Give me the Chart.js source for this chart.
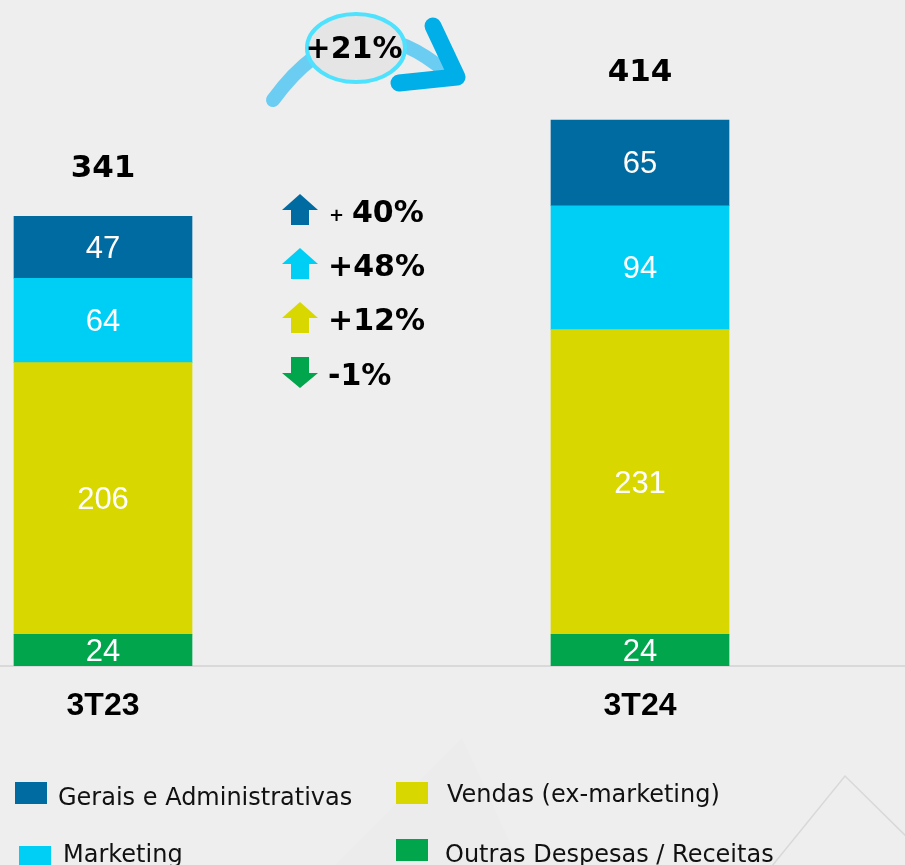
<!DOCTYPE html>
<html>
<head>
<meta charset="utf-8">
<script src="https://cdn.jsdelivr.net/npm/chart.js@4.4.1/dist/chart.umd.min.js"></script>
<style>
  html, body { margin: 0; padding: 0; background: #eeeeee; }
  #wrap { width: 905px; height: 865px; position: relative; }
</style>
</head>
<body>
<div id="wrap"><canvas id="c" width="905" height="865"></canvas></div>
<script>
// ---- data ----
const categories = ['3T23', '3T24'];
const outras = [24, 24];
const vendas = [206, 231];
const marketing = [64, 94];
const gerais = [47, 65];
const totals = [341, 414];
const seriesNames = ['Outras Despesas / Receitas', 'Vendas (ex-marketing)', 'Marketing', 'Gerais e Administrativas'];
const seriesColors = ['#00a54c', '#d8d800', '#00cff5', '#006ba0'];
const changeLabels = ['+ 40%', '+48%', '+12%', '-1%'];   // Gerais, Marketing, Vendas, Outras
const changeDirs = ['up', 'up', 'up', 'down'];
const totalChange = '+21%';

const seriesValues = [outras, vendas, marketing, gerais];
const toPoints = arr => arr.map((v, i) => ({ x: i, y: v }));

const datasets = seriesNames.map((name, k) => ({
  label: name,
  data: toPoints(seriesValues[k]),
  backgroundColor: seriesColors[k],
  borderWidth: 0,
  barThickness: 178
}));

const bgPlugin = {
  id: 'bg',
  beforeDraw(chart) {
    const ctx = chart.ctx;
    ctx.save();
    ctx.fillStyle = '#eeeeee';
    ctx.fillRect(0, 0, chart.width, chart.height);
    ctx.fillStyle = '#ececec';
    ctx.beginPath();
    ctx.moveTo(462, 738); ctx.lineTo(520, 865); ctx.lineTo(335, 865); ctx.closePath();
    ctx.fill();
    ctx.strokeStyle = '#d8d8d8';
    ctx.lineWidth = 1.5;
    ctx.beginPath();
    ctx.moveTo(772, 866); ctx.lineTo(845, 776); ctx.lineTo(910, 840);
    ctx.stroke();
    ctx.restore();
  }
};

const labelPlugin = {
  id: 'labels',
  afterDatasetsDraw(chart) {
    const ctx = chart.ctx;
    ctx.save();
    ctx.textAlign = 'center';
    ctx.textBaseline = 'middle';
    ctx.fillStyle = '#ffffff';
    ctx.font = '31px "Liberation Sans", Arial, sans-serif';
    chart.data.datasets.forEach((ds, di) => {
      const meta = chart.getDatasetMeta(di);
      meta.data.forEach((el, i) => {
        const v = ds.data[i].y;
        const cy = (el.y + el.base) / 2;
        ctx.fillText(String(v), el.x, cy + 2);
      });
    });
    const yScale = chart.scales.y;
    const xScale = chart.scales.x;
    ctx.fillStyle = '#000000';
    ctx.font = 'bold 31px "DejaVu Sans", Verdana, sans-serif';
    totals.forEach((t, i) => {
      const x = xScale.getPixelForValue(i);
      const y = yScale.getPixelForValue(t) - 47;
      ctx.fillText(String(t), x, y);
    });
    ctx.restore();
  }
};

function drawArrow(ctx, cx, top, color, dir) {
  ctx.fillStyle = color;
  ctx.beginPath();
  if (dir === 'up') {
    ctx.moveTo(cx, top);
    ctx.lineTo(cx + 18, top + 16);
    ctx.lineTo(cx + 9, top + 16);
    ctx.lineTo(cx + 9, top + 31);
    ctx.lineTo(cx - 9, top + 31);
    ctx.lineTo(cx - 9, top + 16);
    ctx.lineTo(cx - 18, top + 16);
  } else {
    ctx.moveTo(cx - 9, top);
    ctx.lineTo(cx + 9, top);
    ctx.lineTo(cx + 9, top + 16);
    ctx.lineTo(cx + 18, top + 16);
    ctx.lineTo(cx, top + 31);
    ctx.lineTo(cx - 18, top + 16);
    ctx.lineTo(cx - 9, top + 16);
  }
  ctx.closePath();
  ctx.fill();
}

const decoPlugin = {
  id: 'deco',
  afterDraw(chart) {
    const ctx = chart.ctx;
    ctx.save();
    ctx.lineCap = 'round';
    ctx.strokeStyle = '#6ccdf3';
    ctx.lineWidth = 14;
    ctx.beginPath();
    ctx.moveTo(273, 100);
    ctx.quadraticCurveTo(352, -8, 446, 72);
    ctx.stroke();
    ctx.strokeStyle = '#00aee8';
    ctx.lineWidth = 17;
    ctx.lineJoin = 'round';
    ctx.beginPath();
    ctx.moveTo(433, 26);
    ctx.lineTo(457, 77);
    ctx.lineTo(399, 83);
    ctx.stroke();
    ctx.fillStyle = '#e5e5e5';
    ctx.strokeStyle = '#4ee2fe';
    ctx.lineWidth = 4;
    ctx.beginPath();
    ctx.ellipse(356, 48, 49, 34, 0, 0, Math.PI * 2);
    ctx.fill();
    ctx.stroke();
    ctx.fillStyle = '#000';
    ctx.textAlign = 'center';
    ctx.textBaseline = 'middle';
    ctx.font = 'bold 30px "DejaVu Sans", Verdana, sans-serif';
    ctx.fillText(totalChange, 354, 50);

    const colorsTopDown = [seriesColors[3], seriesColors[2], seriesColors[1], seriesColors[0]];
    const tops = [194, 248, 302, 357];
    ctx.textAlign = 'left';
    changeLabels.forEach((lab, i) => {
      drawArrow(ctx, 300, tops[i], colorsTopDown[i], changeDirs[i]);
      ctx.fillStyle = '#000';
      const ty = tops[i] + 20;
      if (lab.startsWith('+ ')) {
        ctx.font = 'bold 18px "DejaVu Sans", Verdana, sans-serif';
        ctx.fillText('+', 329, ty + 2);
        ctx.font = 'bold 30px "DejaVu Sans", Verdana, sans-serif';
        ctx.fillText(lab.slice(2), 352, ty);
      } else {
        ctx.font = 'bold 30px "DejaVu Sans", Verdana, sans-serif';
        ctx.fillText(lab, 328, ty);
      }
    });

    const legendItems = [
      { name: seriesNames[3], color: seriesColors[3], sx: 15, sy: 782, tx: 58, ty: 805 },
      { name: seriesNames[1], color: seriesColors[1], sx: 396, sy: 782, tx: 447, ty: 802 },
      { name: seriesNames[2], color: seriesColors[2], sx: 19, sy: 846, tx: 63, ty: 862 },
      { name: seriesNames[0], color: seriesColors[0], sx: 396, sy: 839, tx: 445, ty: 862 }
    ];
    ctx.font = '24px "DejaVu Sans", Verdana, sans-serif';
    ctx.textBaseline = 'alphabetic';
    legendItems.forEach(it => {
      ctx.fillStyle = it.color;
      ctx.fillRect(it.sx, it.sy, 32, 22);
      ctx.fillStyle = '#111';
      ctx.fillText(it.name, it.tx, it.ty);
    });
    ctx.restore();
  }
};

new Chart(document.getElementById('c'), {
  type: 'bar',
  data: { datasets },
  options: {
    responsive: false,
    animation: false,
    layout: { padding: 0 },
    plugins: { legend: { display: false }, tooltip: { enabled: false } },
    scales: {
      x: {
        type: 'linear',
        stacked: true,
        offset: false,
        bounds: 'ticks',
        min: -103 / 537,
        max: 1 + 265 / 537,
        grid: { display: false, drawTicks: false, offset: false },
        border: { display: true, color: '#d9d9d9', width: 2 },
        afterBuildTicks: s => { s.ticks = categories.map((c, i) => ({ value: i })); },
        afterFit: s => { s.height = 199; },
        ticks: {
          padding: 21,
          color: '#000',
          font: { family: '"Liberation Sans", Arial, sans-serif', size: 32, weight: 'bold' },
          callback: v => categories[v]
        }
      },
      y: {
        stacked: true,
        display: false,
        min: 0,
        max: 505
      }
    }
  },
  plugins: [bgPlugin, labelPlugin, decoPlugin]
});
</script>
</body>
</html>
